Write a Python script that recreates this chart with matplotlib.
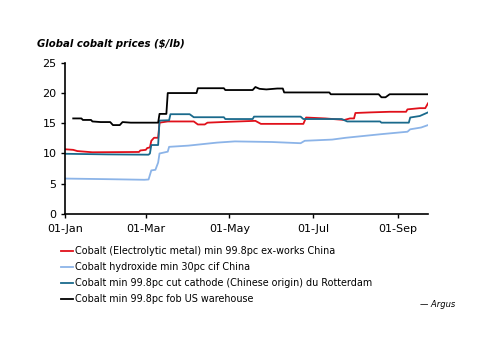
import matplotlib
matplotlib.use("Agg")
import matplotlib.pyplot as plt
import matplotlib.dates as mdates
import pandas as pd

plt.rcParams['font.family'] = ['DejaVu Sans']

# Cobalt (Electrolytic metal) min 99.8pc ex-works China
red_dates = ['01-01', '01-07', '01-10', '01-21', '02-24', '02-25', '03-01', '03-02', '03-04',
             '03-05', '03-07', '03-10', '03-11', '03-17', '04-05', '04-08', '04-13', '04-15',
             '05-01', '05-20', '05-24', '06-24', '06-26', '07-10', '07-24', '07-28', '07-31',
             '08-01', '08-12', '08-26', '09-07', '09-08', '09-17', '09-21', '09-23']
red_vals = [10.7, 10.6, 10.4, 10.2, 10.25, 10.5, 10.6, 10.9, 11.0,
            12.1, 12.6, 12.6, 15.1, 15.3, 15.3, 14.8, 14.8, 15.1,
            15.25, 15.4, 14.9, 14.9, 15.95, 15.8, 15.55, 15.8, 15.8,
            16.7, 16.8, 16.9, 16.9, 17.3, 17.5, 17.5, 18.3]

# Cobalt hydroxide min 30pc cif China
hyd_dates = ['01-01', '02-01', '02-28', '03-03', '03-05', '03-08', '03-10', '03-11', '03-17',
             '03-18', '04-01', '04-22', '05-05', '06-01', '06-22', '06-25', '07-15', '07-25',
             '08-20', '09-08', '09-10', '09-18', '09-23']
hyd_vals = [5.85, 5.75, 5.65, 5.7, 7.2, 7.3, 8.5, 10.0, 10.3,
            11.1, 11.3, 11.8, 12.0, 11.9, 11.7, 12.1, 12.3, 12.6,
            13.2, 13.6, 14.0, 14.3, 14.7]

# Cobalt min 99.8pc cut cathode (Chinese origin) du Rotterdam
rot_dates = ['01-01', '02-01', '03-03', '03-04', '03-05', '03-10', '03-11', '03-18', '03-19',
             '04-02', '04-05', '04-27', '04-28', '05-18', '05-19', '06-22', '06-24', '07-22',
             '07-26', '08-19', '08-20', '09-09', '09-10', '09-17', '09-23']
rot_vals = [9.95, 9.85, 9.8, 10.0, 11.4, 11.4, 15.45, 15.5, 16.5,
            16.5, 16.0, 16.0, 15.7, 15.7, 16.1, 16.1, 15.7, 15.7,
            15.3, 15.3, 15.1, 15.1, 15.95, 16.2, 16.8]

# Cobalt min 99.8pc fob US warehouse
us_dates = ['01-07', '01-13', '01-14', '01-20', '01-21', '01-27', '02-03', '02-05', '02-10',
            '02-12', '02-18', '03-10', '03-11', '03-16', '03-17', '04-07', '04-08', '04-27',
            '04-28', '05-18', '05-20', '05-23', '05-28', '06-05', '06-09', '06-10', '07-13',
            '07-14', '08-18', '08-20', '08-23', '08-26', '09-23']
us_vals = [15.8, 15.8, 15.55, 15.55, 15.3, 15.2, 15.2, 14.7, 14.7,
           15.2, 15.1, 15.1, 16.55, 16.55, 20.0, 20.0, 20.8, 20.8,
           20.5, 20.5, 21.0, 20.7, 20.6, 20.75, 20.75, 20.1, 20.1,
           19.8, 19.8, 19.3, 19.3, 19.8, 19.8]

labels = ['Cobalt (Electrolytic metal) min 99.8pc ex-works China',
          'Cobalt hydroxide min 30pc cif China',
          'Cobalt min 99.8pc cut cathode (Chinese origin) du Rotterdam',
          'Cobalt min 99.8pc fob US warehouse']
colors = ['#e0101a', '#8cb4e8', '#1a6a8c', '#000000']
x_ticks = ['01-01', '03-01', '05-01', '07-01', '09-01']
year = '2025-'


def to_dates(ds):
    return pd.to_datetime([year + d for d in ds])


fig = plt.figure(figsize=(5.0, 3.53), dpi=100)
ax = fig.add_axes([0.13, 0.394, 0.726, 0.428])

series = [(red_dates, red_vals), (hyd_dates, hyd_vals), (rot_dates, rot_vals), (us_dates, us_vals)]
for (d, v), lab, c in zip(series, labels, colors):
    ax.plot(to_dates(d), v, color=c, lw=1.3, label=lab)

ax.set_xlim(pd.Timestamp(year + '01-01'), pd.Timestamp(year + '09-23'))
ax.set_ylim(0, 25)
ax.set_yticks(range(0, 26, 5))
ax.set_xticks(to_dates(x_ticks))
ax.xaxis.set_major_formatter(mdates.DateFormatter('%d-%b'))

for s in ['top', 'right']:
    ax.spines[s].set_visible(False)
for s in ['left', 'bottom']:
    ax.spines[s].set_linewidth(1.2)
ax.tick_params(labelsize=8, length=3, width=1, pad=3)
ax.tick_params(axis='x', pad=4)

fig.text(0.074, 0.868, 'Global cobalt prices ($/lb)', fontsize=7.3, fontweight='bold',
         fontstyle='italic')

fig.legend(loc='upper left', bbox_to_anchor=(0.122, 0.302), frameon=False, fontsize=6.9,
           handlelength=1.25, handletextpad=0.25, labelspacing=0.62, borderaxespad=0,
           borderpad=0)

fig.text(0.91, 0.13, '\u2014 Argus', fontsize=6, fontstyle='italic', ha='right')

fig.savefig('out.png', dpi=100)
